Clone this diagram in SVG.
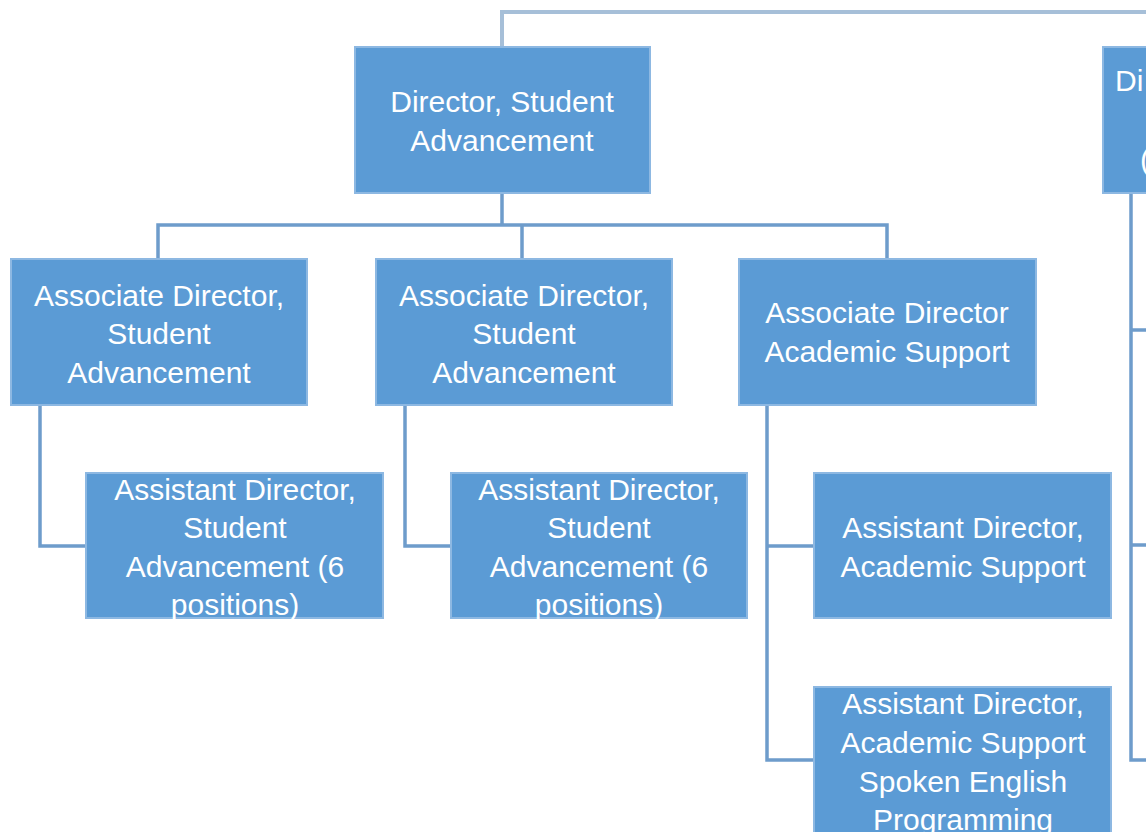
<svg xmlns="http://www.w3.org/2000/svg" width="1146" height="832" viewBox="0 0 1146 832">
<style>
.box{fill:#5B9BD5;stroke:#8DB8E2;stroke-width:2}
.t{font-family:"Liberation Sans",Arial,sans-serif;font-size:30px;fill:#FFFFFF;text-anchor:middle;dominant-baseline:central}
.c{fill:none;stroke:#6E9CCB;stroke-width:3.5}
.c2{fill:none;stroke:#A6BFD8;stroke-width:4}
</style>
<rect width="1146" height="832" fill="#FFFFFF"/>
<g id="connectors">
<path class="c2" d="M502 47 V12 H1146"/>
<path class="c" d="M502 193 V225 M158 259 V225 H887 V259 M522 225 V259"/>
<path class="c" d="M40 405 V546 H86"/>
<path class="c" d="M405 405 V546 H451"/>
<path class="c" d="M767 405 V760 H814 M767 546 H814"/>
<path class="c" d="M1131 193 V760 H1146 M1131 330 H1146 M1131 545 H1146"/>
</g>
<g id="director">
<rect class="box" x="355" y="47" width="295" height="146"/>
<text class="t" x="502" y="101">Director, Student</text>
<text class="t" x="502" y="140">Advancement</text>
</g>
<g id="director-right">
<rect class="box" x="1103" y="47" width="300" height="146"/>
<text class="t" x="1115" y="80" style="text-anchor:start">Di</text>
<text class="t" x="1140" y="159" style="text-anchor:start">(</text>
</g>
<g id="assoc1">
<rect class="box" x="11" y="259" width="296" height="146"/>
<text class="t" x="159" y="295">Associate Director,</text>
<text class="t" x="159" y="333">Student</text>
<text class="t" x="159" y="372">Advancement</text>
</g>
<g id="assoc2">
<rect class="box" x="376" y="259" width="296" height="146"/>
<text class="t" x="524" y="295">Associate Director,</text>
<text class="t" x="524" y="333">Student</text>
<text class="t" x="524" y="372">Advancement</text>
</g>
<g id="assoc3">
<rect class="box" x="739" y="259" width="297" height="146"/>
<text class="t" x="887" y="312">Associate Director</text>
<text class="t" x="887" y="351">Academic Support</text>
</g>
<g id="asst1">
<rect class="box" x="86" y="473" width="297" height="145"/>
<text class="t" x="235" y="489">Assistant Director,</text>
<text class="t" x="235" y="527">Student</text>
<text class="t" x="235" y="566">Advancement (6</text>
<text class="t" x="235" y="604">positions)</text>
</g>
<g id="asst2">
<rect class="box" x="451" y="473" width="296" height="145"/>
<text class="t" x="599" y="489">Assistant Director,</text>
<text class="t" x="599" y="527">Student</text>
<text class="t" x="599" y="566">Advancement (6</text>
<text class="t" x="599" y="604">positions)</text>
</g>
<g id="asst3">
<rect class="box" x="814" y="473" width="297" height="145"/>
<text class="t" x="963" y="527">Assistant Director,</text>
<text class="t" x="963" y="566">Academic Support</text>
</g>
<g id="asst4">
<rect class="box" x="814" y="687" width="297" height="160"/>
<text class="t" x="963" y="703">Assistant Director,</text>
<text class="t" x="963" y="742">Academic Support</text>
<text class="t" x="963" y="781">Spoken English</text>
<text class="t" x="963" y="819">Programming</text>
</g>
</svg>
